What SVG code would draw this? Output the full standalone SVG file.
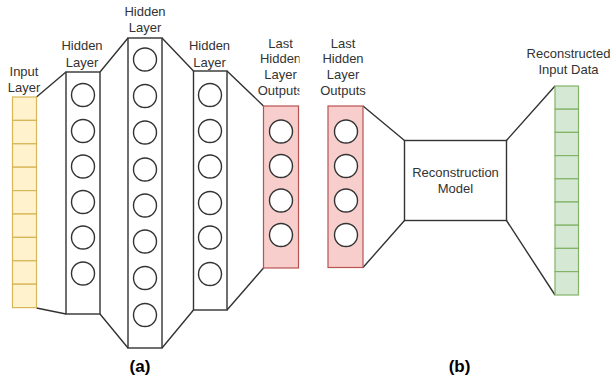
<svg xmlns="http://www.w3.org/2000/svg" width="613" height="383" viewBox="0 0 613 383">
  <defs>
    <style>
      .lbl { font-family: "Liberation Sans", Arial, sans-serif; font-size: 13px; fill: #333333; text-anchor: middle; }
      .cap { font-family: "Liberation Sans", Arial, sans-serif; font-size: 17px; font-weight: bold; fill: #000000; text-anchor: middle; }
      .layer { fill: #ffffff; stroke: #333333; stroke-width: 1.4; }
      .neuron { fill: #ffffff; stroke: #333333; stroke-width: 1.4; }
      .yellow { fill: #fff2cc; stroke: #d6b656; stroke-width: 1.2; }
      .red { fill: #f8cecc; stroke: #b85450; stroke-width: 1.2; }
      .green { fill: #d5e8d4; stroke: #82b366; stroke-width: 1.2; }
      .link { fill: none; stroke: #333333; stroke-width: 1.4; }
    </style>
    <clipPath id="clipLastA">
      <rect x="250" y="30" width="49.5" height="70"/>
    </clipPath>
  </defs>

  <!-- connectors between layers -->
  <g id="connectors">
    <path class="link" d="M36.5,97 L66,72 M36.5,308 L66,314"/>
    <path class="link" d="M100,72 L128,38 M100,314 L128,348"/>
    <path class="link" d="M162,38 L193.5,71 M162,348 L193.5,310"/>
    <path class="link" d="M227,71 L263.5,106 M227,310 L263.5,268"/>
    <path class="link" d="M363,106 L404.5,140.5 M363,267.5 L404.5,220.5"/>
    <path class="link" d="M506.5,140.5 L555,86 M506.5,220.5 L555,295"/>
  </g>

  <!-- (a) input layer -->
  <g id="input-layer">
    <rect class="yellow" x="12.5" y="97" width="24" height="23.4"/>
    <rect class="yellow" x="12.5" y="120.4" width="24" height="23.4"/>
    <rect class="yellow" x="12.5" y="143.8" width="24" height="23.4"/>
    <rect class="yellow" x="12.5" y="167.2" width="24" height="23.4"/>
    <rect class="yellow" x="12.5" y="190.6" width="24" height="23.4"/>
    <rect class="yellow" x="12.5" y="214" width="24" height="23.4"/>
    <rect class="yellow" x="12.5" y="237.4" width="24" height="23.4"/>
    <rect class="yellow" x="12.5" y="260.8" width="24" height="23.4"/>
    <rect class="yellow" x="12.5" y="284.2" width="24" height="23.4"/>
    <text class="lbl" x="24" y="75.5">Input</text>
    <text class="lbl" x="24" y="91.5">Layer</text>
  </g>

  <!-- (a) first hidden layer -->
  <g id="hidden-layer-1">
    <rect class="layer" x="66" y="72" width="34" height="242"/>
    <circle class="neuron" cx="83" cy="95" r="11.5"/>
    <circle class="neuron" cx="83" cy="131" r="11.5"/>
    <circle class="neuron" cx="83" cy="166.5" r="11.5"/>
    <circle class="neuron" cx="83" cy="202" r="11.5"/>
    <circle class="neuron" cx="83" cy="237.5" r="11.5"/>
    <circle class="neuron" cx="83" cy="273.5" r="11.5"/>
    <text class="lbl" x="82" y="50">Hidden</text>
    <text class="lbl" x="82" y="66.5">Layer</text>
  </g>

  <!-- (a) widest hidden layer -->
  <g id="hidden-layer-2">
    <rect class="layer" x="128" y="38" width="34" height="310"/>
    <circle class="neuron" cx="145" cy="59.5" r="11.5"/>
    <circle class="neuron" cx="145" cy="96" r="11.5"/>
    <circle class="neuron" cx="145" cy="132.5" r="11.5"/>
    <circle class="neuron" cx="145" cy="169.5" r="11.5"/>
    <circle class="neuron" cx="145" cy="205.5" r="11.5"/>
    <circle class="neuron" cx="145" cy="241.5" r="11.5"/>
    <circle class="neuron" cx="145" cy="278" r="11.5"/>
    <circle class="neuron" cx="145" cy="315" r="11.5"/>
    <text class="lbl" x="145" y="15.5">Hidden</text>
    <text class="lbl" x="145" y="32">Layer</text>
  </g>

  <!-- (a) third hidden layer -->
  <g id="hidden-layer-3">
    <rect class="layer" x="193.5" y="71" width="33.5" height="239"/>
    <circle class="neuron" cx="210" cy="95" r="11.5"/>
    <circle class="neuron" cx="210" cy="131" r="11.5"/>
    <circle class="neuron" cx="210" cy="166.5" r="11.5"/>
    <circle class="neuron" cx="210" cy="203" r="11.5"/>
    <circle class="neuron" cx="210" cy="237.5" r="11.5"/>
    <circle class="neuron" cx="210" cy="274" r="11.5"/>
    <text class="lbl" x="209.5" y="50">Hidden</text>
    <text class="lbl" x="209.5" y="66.5">Layer</text>
  </g>

  <!-- (a) last hidden layer outputs -->
  <g id="last-hidden-a">
    <rect class="red" x="263.5" y="106" width="35" height="162"/>
    <circle class="neuron" cx="281" cy="131.5" r="11.5"/>
    <circle class="neuron" cx="281" cy="166" r="11.5"/>
    <circle class="neuron" cx="281" cy="200.5" r="11.5"/>
    <circle class="neuron" cx="281" cy="235" r="11.5"/>
    <g clip-path="url(#clipLastA)">
      <text class="lbl" x="280.5" y="47.5">Last</text>
      <text class="lbl" x="280.5" y="63.3">Hidden</text>
      <text class="lbl" x="280.5" y="79">Layer</text>
      <text class="lbl" x="280.5" y="94.8">Outputs</text>
    </g>
  </g>

  <!-- (b) last hidden layer outputs -->
  <g id="last-hidden-b">
    <rect class="red" x="328" y="106" width="35" height="161.5"/>
    <circle class="neuron" cx="346" cy="131.5" r="11.5"/>
    <circle class="neuron" cx="346" cy="166" r="11.5"/>
    <circle class="neuron" cx="346" cy="200.5" r="11.5"/>
    <circle class="neuron" cx="346" cy="235" r="11.5"/>
    <text class="lbl" x="343" y="47.5">Last</text>
    <text class="lbl" x="343" y="63.3">Hidden</text>
    <text class="lbl" x="343" y="79">Layer</text>
    <text class="lbl" x="343" y="94.8">Outputs</text>
  </g>

  <!-- (b) reconstruction model -->
  <g id="reconstruction-model">
    <rect class="layer" x="404.5" y="140.5" width="102" height="80"/>
    <text class="lbl" x="455.5" y="176.5">Reconstruction</text>
    <text class="lbl" x="455.5" y="193">Model</text>
  </g>

  <!-- (b) reconstructed input data -->
  <g id="reconstructed-input">
    <rect class="green" x="555" y="86" width="23.5" height="23.2"/>
    <rect class="green" x="555" y="109.2" width="23.5" height="23.2"/>
    <rect class="green" x="555" y="132.4" width="23.5" height="23.2"/>
    <rect class="green" x="555" y="155.6" width="23.5" height="23.2"/>
    <rect class="green" x="555" y="178.8" width="23.5" height="23.2"/>
    <rect class="green" x="555" y="202" width="23.5" height="23.2"/>
    <rect class="green" x="555" y="225.2" width="23.5" height="23.2"/>
    <rect class="green" x="555" y="248.4" width="23.5" height="23.2"/>
    <rect class="green" x="555" y="271.6" width="23.5" height="23.4"/>
    <text class="lbl" x="568.5" y="57.5">Reconstructed</text>
    <text class="lbl" x="568.5" y="74">Input Data</text>
  </g>

  <!-- panel captions -->
  <g id="captions">
    <text class="cap" x="140" y="372">(a)</text>
    <text class="cap" x="459.5" y="372">(b)</text>
  </g>
</svg>
